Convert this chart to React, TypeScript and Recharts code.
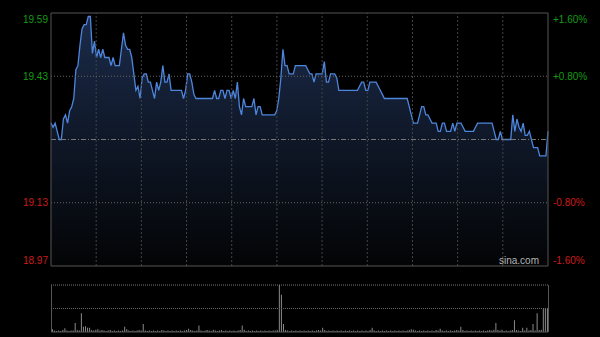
import React from "react";
import {
  AreaChart, Area, BarChart, Bar, XAxis, YAxis, ReferenceLine,
} from "recharts";

// intraday prices, one per minute (241 points)
const prices: number[] = [
  19.32, 19.31, 19.32, 19.30, 19.28, 19.28, 19.33, 19.34, 19.32, 19.35,
  19.36, 19.38, 19.45, 19.46, 19.51, 19.55, 19.56, 19.56, 19.58, 19.58,
  19.49, 19.52, 19.48, 19.50, 19.48, 19.50, 19.48, 19.48, 19.48, 19.46,
  19.48, 19.46, 19.46, 19.46, 19.50, 19.54, 19.51, 19.50, 19.50, 19.48,
  19.44, 19.40, 19.41, 19.38, 19.43, 19.44, 19.44, 19.42, 19.42, 19.40,
  19.38, 19.42, 19.40, 19.42, 19.46, 19.42, 19.42, 19.44, 19.40, 19.40,
  19.40, 19.40, 19.40, 19.40, 19.38, 19.40, 19.44, 19.44, 19.42, 19.39,
  19.38, 19.38, 19.38, 19.38, 19.38, 19.38, 19.38, 19.38, 19.38, 19.40,
  19.38, 19.38, 19.40, 19.40, 19.38, 19.40, 19.40, 19.38, 19.40, 19.38,
  19.42, 19.36, 19.34, 19.38, 19.36, 19.36, 19.36, 19.36, 19.38, 19.34,
  19.36, 19.36, 19.34, 19.34, 19.34, 19.34, 19.34, 19.34, 19.34, 19.35,
  19.38, 19.43, 19.50, 19.46, 19.46, 19.44, 19.44, 19.44, 19.46, 19.46,
  19.46, 19.46, 19.46, 19.46, 19.45, 19.44, 19.44, 19.42, 19.44, 19.44,
  19.44, 19.44, 19.47, 19.42, 19.42, 19.44, 19.44, 19.44, 19.43, 19.40,
  19.40, 19.40, 19.40, 19.40, 19.40, 19.40, 19.40, 19.40, 19.40, 19.41,
  19.42, 19.42, 19.40, 19.40, 19.42, 19.42, 19.42, 19.42, 19.41, 19.40,
  19.39, 19.38, 19.38, 19.38, 19.38, 19.38, 19.38, 19.38, 19.38, 19.38,
  19.38, 19.38, 19.38, 19.36, 19.34, 19.32, 19.32, 19.32, 19.34, 19.36,
  19.36, 19.34, 19.34, 19.33, 19.32, 19.32, 19.32, 19.30, 19.30, 19.32,
  19.32, 19.30, 19.30, 19.30, 19.32, 19.30, 19.32, 19.32, 19.32, 19.31,
  19.30, 19.30, 19.30, 19.30, 19.30, 19.31, 19.32, 19.32, 19.32, 19.32,
  19.32, 19.32, 19.32, 19.32, 19.30, 19.28, 19.28, 19.30, 19.28, 19.28,
  19.28, 19.28, 19.28, 19.34, 19.30, 19.33, 19.31, 19.30, 19.32, 19.29,
  19.29, 19.30, 19.28, 19.26, 19.26, 19.26, 19.24, 19.24, 19.24, 19.24,
  19.30,
];

// volume per minute, relative units (max = 100)
const volumes: number[] = [
  6, 3, 2, 3, 2, 4, 8, 3, 2, 3,
  3, 19, 4, 3, 40, 11, 12, 9, 9, 4,
  3, 5, 6, 3, 4, 3, 2, 3, 4, 2,
  3, 2, 3, 2, 3, 11, 6, 3, 2, 3,
  2, 3, 4, 3, 17, 3, 2, 3, 2, 3,
  2, 3, 2, 4, 3, 2, 3, 2, 3, 2,
  3, 2, 3, 2, 3, 4, 7, 4, 3, 2,
  3, 14, 3, 2, 3, 4, 3, 2, 5, 3,
  2, 3, 4, 2, 3, 2, 3, 2, 3, 2,
  3, 4, 14, 5, 2, 3, 2, 3, 2, 3,
  2, 3, 2, 3, 2, 3, 2, 3, 3, 4,
  100, 79, 17, 4, 3, 2, 3, 2, 3, 2,
  3, 2, 3, 2, 3, 2, 3, 2, 3, 4,
  3, 9, 4, 2, 3, 2, 3, 2, 3, 2,
  3, 2, 3, 2, 3, 2, 3, 2, 3, 2,
  3, 2, 3, 2, 4, 9, 3, 2, 3, 2,
  3, 2, 3, 2, 3, 2, 3, 2, 3, 2,
  3, 2, 3, 4, 6, 5, 3, 2, 3, 2,
  3, 2, 3, 2, 3, 2, 4, 3, 7, 3,
  2, 3, 2, 3, 2, 3, 4, 3, 11, 4,
  2, 3, 2, 3, 2, 3, 2, 3, 2, 3,
  2, 3, 4, 3, 5, 19, 4, 3, 5, 2,
  3, 2, 3, 4, 25, 4, 3, 2, 9, 3,
  9, 3, 4, 17, 3, 40, 4, 5, 49, 51,
  51,
];

const prevClose = 19.28;
const pctSteps = [-0.016, -0.008, 0.008, 0.016];

const hi = prevClose * (1 + 0.016);
const lo = prevClose * (1 - 0.016);
const priceTicks = pctSteps.map(p => prevClose * (1 + p));
const gridX = Array.from({ length: 10 }, (_, k) => ((k + 1) * 240) / 11);

const rows = prices.map((p, i) => ({ t: i, price: p, vol: volumes[i] }));

const GREEN = "#149c14";
const RED = "#cc1a1a";
const FONT = "Arial, 'Liberation Sans', sans-serif";

function edgeShift(v: number) {
  if (Math.abs(v - hi) < 1e-6) return 6;
  if (Math.abs(v - lo) < 1e-6) return -6;
  return 0;
}

const LeftTick = (props: any) => {
  const v: number = props.payload.value;
  return (
    <text x={48} y={props.y + edgeShift(v)} dy="0.35em" textAnchor="end"
      fill={v > prevClose ? GREEN : RED} fontSize={10} fontFamily={FONT}>
      {v.toFixed(2)}
    </text>
  );
};

const RightTick = (props: any) => {
  const v: number = props.payload.value;
  const pct = ((v - prevClose) / prevClose) * 100;
  const label = (pct > 0 ? "+" : "") + pct.toFixed(2) + "%";
  return (
    <text x={553} y={props.y + edgeShift(v)} dy="0.35em" textAnchor="start"
      fill={v > prevClose ? GREEN : RED} fontSize={10} fontFamily={FONT}>
      {label}
    </text>
  );
};

export default function App() {
  return (
    <div style={{ position: "fixed", left: 0, top: 0, width: 600, height: 337, background: "#000", overflow: "hidden" }}>
      <div style={{ position: "absolute", left: 0, top: 0 }}>
        <AreaChart width={600} height={280} data={rows} margin={{ top: 13, right: 0, bottom: 14, left: 0 }}>
          <defs>
            <linearGradient id="priceFill" x1="0" y1="0" x2="0" y2="1">
              <stop offset="0%" stopColor="#1b2b4a" />
              <stop offset="100%" stopColor="#030405" />
            </linearGradient>
          </defs>
          <XAxis dataKey="t" type="number" domain={[0, 240]} hide />
          <YAxis yAxisId="left" domain={[lo, hi]} ticks={priceTicks} width={51}
            axisLine={false} tickLine={false} tick={<LeftTick />} interval={0} />
          <YAxis yAxisId="right" orientation="right" domain={[lo, hi]} ticks={priceTicks} width={52}
            axisLine={false} tickLine={false} tick={<RightTick />} interval={0} />
          <Area yAxisId="right" type="linear" dataKey="price" stroke="none" fill="none"
            isAnimationActive={false} dot={false} activeDot={false} />
          <Area yAxisId="left" type="linear" dataKey="price" stroke="#4d86dc" strokeWidth={1.3}
            fill="url(#priceFill)" fillOpacity={1} isAnimationActive={false} dot={false} activeDot={false} />
          {gridX.map(x => (
            <ReferenceLine key={x} yAxisId="left" x={x} stroke="#444" strokeDasharray="2 2" />
          ))}
          {priceTicks.filter(v => Math.abs(v - hi) > 1e-6 && Math.abs(v - lo) > 1e-6).map(v => (
            <ReferenceLine key={v} yAxisId="left" y={v} stroke="#666" strokeDasharray="1 2" />
          ))}
          <ReferenceLine yAxisId="left" y={prevClose} stroke="#777" strokeDasharray="5 2 1 2" />
          <ReferenceLine yAxisId="left" y={hi} stroke="#555" />
          <ReferenceLine yAxisId="left" y={lo} stroke="#555" />
          <ReferenceLine yAxisId="left" x={0} stroke="#555" />
          <ReferenceLine yAxisId="left" x={240} stroke="#555" />
        </AreaChart>
      </div>
      <div style={{ position: "absolute", left: 499, top: 255, color: "#b5b5b5", fontSize: 10, fontFamily: FONT }}>
        sina.com
      </div>
      <div style={{ position: "absolute", left: 0, top: 280 }}>
        <BarChart width={600} height={57} data={rows} margin={{ top: 5, right: 52, bottom: 5, left: 51 }} barCategoryGap={0}>
          <XAxis dataKey="t" hide />
          <YAxis domain={[0, 100]} hide />
          <ReferenceLine y={100} stroke="#777" strokeDasharray="1 1" />
          <ReferenceLine y={50} stroke="#666" strokeDasharray="1 1" />
          <ReferenceLine y={0} stroke="#555" />
          <Bar dataKey="vol" fill="#8a8a8a" barSize={1} isAnimationActive={false} />
        </BarChart>
      </div>
      <div style={{ position: "absolute", left: 51, top: 285, width: 496, height: 47, borderLeft: "1px solid #555", borderRight: "1px solid #555", pointerEvents: "none" }} />
    </div>
  );
}
